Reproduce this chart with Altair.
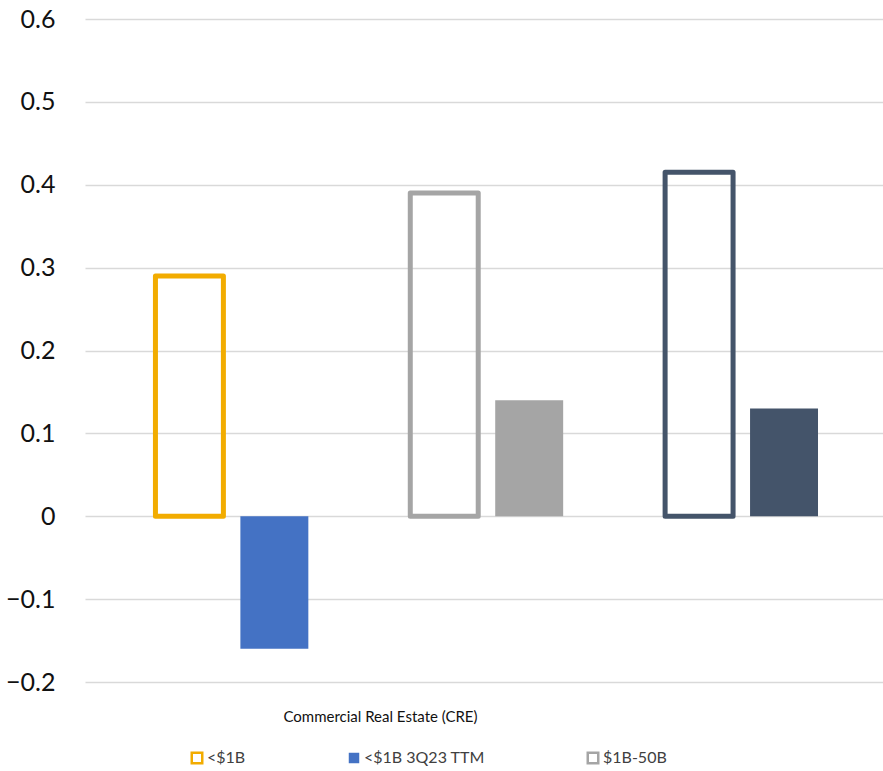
import altair as alt
import pandas as pd

# ---- data ----
series = ["<$1B", "<$1B 3Q23 TTM", "$1B-50B", "$1B-50B 3Q23 TTM", ">$50B", ">$50B 3Q23 TTM"]
groups = ["<$1B", "<$1B", "$1B-50B", "$1B-50B", ">$50B", ">$50B"]
kinds = ["outline", "filled", "outline", "filled", "outline", "filled"]
values = [0.29, -0.16, 0.39, 0.14, 0.415, 0.13]
group_order = ["<$1B", "$1B-50B", ">$50B"]
y_ticks = [-0.2, -0.1, 0, 0.1, 0.2, 0.3, 0.4, 0.5, 0.6]
category_label = "Commercial Real Estate (CRE)"

# ---- styles ----
fill_colors = ["transparent", "#4472C4", "transparent", "#A5A5A5", "transparent", "#44546A"]
stroke_colors = ["#F2AC00", "transparent", "#A5A5A5", "transparent", "#44546A", "transparent"]

df = pd.DataFrame({"series": series, "group": groups, "kind": kinds, "value": values})

FONT = "Lato"
TEXT = "#111111"

leg = alt.Legend(
    orient="none", legendX=104, legendY=731, direction="horizontal",
    values=series[:3], title=None, symbolType="square", symbolSize=110,
    symbolStrokeWidth=2.5, labelFontSize=16, labelFont=FONT, labelColor="#404040",
    columnPadding=97, labelOffset=2, gridAlign="none", padding=0,
)

chart = alt.Chart(df).mark_bar(strokeWidth=5, strokeJoin="round").encode(
    x=alt.X(
        "group:N", sort=group_order,
        scale=alt.Scale(paddingInner=1/3, paddingOuter=0.2324, align=0.523),
        axis=alt.Axis(
            title=category_label, labels=False, ticks=False, domain=False, grid=False,
            titleX=295, titleY=34, titleBaseline="middle", titleAlign="center",
            titleFont=FONT, titleFontSize=15, titleFontWeight="normal", titleColor=TEXT,
        ),
    ),
    xOffset=alt.XOffset("kind:N", sort=["outline", "filled"],
                        scale=alt.Scale(paddingInner=0.2, paddingOuter=0.1)),
    y=alt.Y(
        "value:Q", scale=alt.Scale(domain=[-0.2, 0.6], nice=False, zero=False),
        axis=alt.Axis(
            values=y_ticks, format=".1~f", title=None, domain=False, ticks=False,
            labelPadding=30, labelFontSize=25, labelFont=FONT, labelColor=TEXT,
            grid=True, gridColor="#D9D9D9", gridWidth=1.5,
        ),
    ),
    fill=alt.Fill("series:N", scale=alt.Scale(domain=series, range=fill_colors), legend=leg),
    stroke=alt.Stroke("series:N", scale=alt.Scale(domain=series, range=stroke_colors), legend=leg),
).properties(
    width=798, height=663,
    padding={"left": 85, "top": 19, "right": 0, "bottom": 89},
    autosize="none",
).configure(background="white").configure_view(stroke=None)

chart.save("out.html", embed_options={"renderer": "svg", "actions": False})
